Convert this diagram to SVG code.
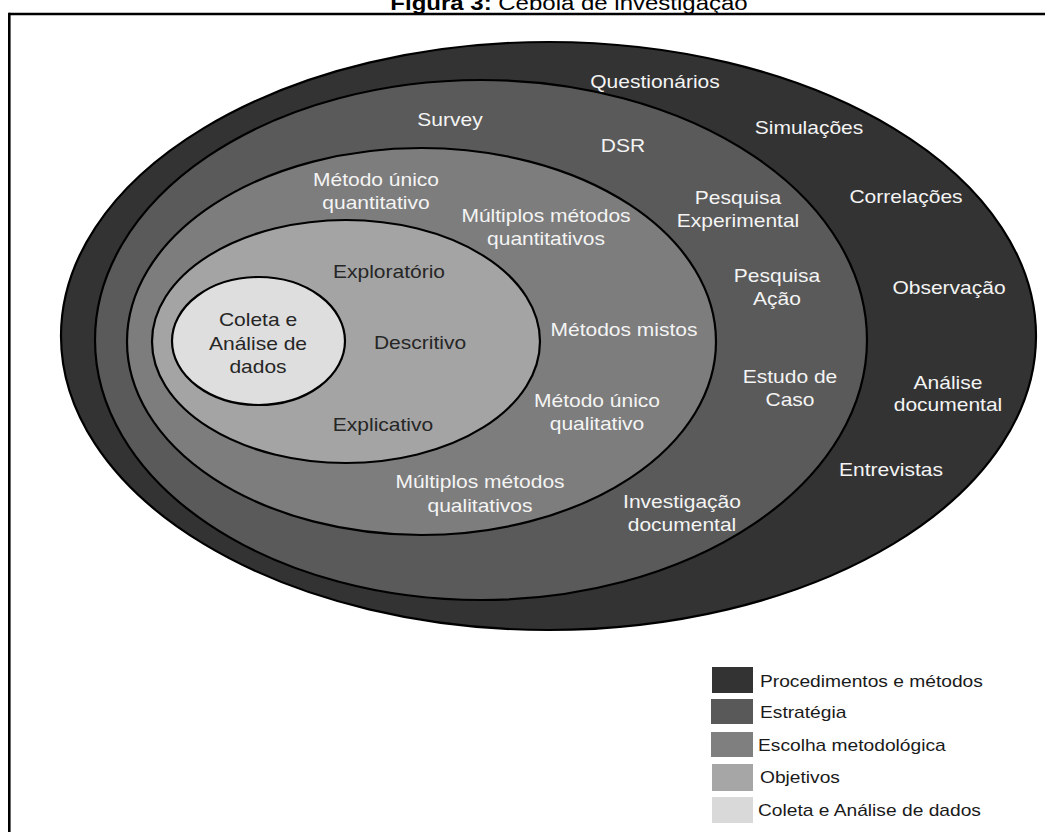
<svg xmlns="http://www.w3.org/2000/svg" width="1045" height="832" viewBox="0 0 1045 832">
<style>
.lyr{stroke:#000;stroke-width:2.2}
.w{font-family:"Liberation Sans",Arial,sans-serif;font-size:17.5px;fill:#f4f4f4;text-anchor:middle}
.d{font-family:"Liberation Sans",Arial,sans-serif;font-size:17.5px;fill:#262626;text-anchor:middle}
.lg{font-family:"Liberation Sans",Arial,sans-serif;font-size:16px;fill:#1a1a1a}
.sw{stroke:none}
</style>
<rect x="0" y="0" width="1045" height="832" fill="#ffffff"/>
<g id="frame">
<text transform="translate(569 0) scale(1.2 1)" x="0" y="10" style="font-family:'Liberation Sans',Arial,sans-serif;font-size:20px;fill:#000;text-anchor:middle"><tspan font-weight="bold">Figura 3:</tspan> Cebola de investigação</text>
<line x1="9" y1="14" x2="1045" y2="14" stroke="#000" stroke-width="2.6"/>
<line x1="9.3" y1="12.7" x2="9.3" y2="832" stroke="#000" stroke-width="2.6"/>
</g>
<g id="procedimentos">
<ellipse class="lyr" cx="548.5" cy="336" rx="487.5" ry="294" fill="#333333"/>
<text class="w" transform="translate(655 0) scale(1.2 1)"><tspan x="0" y="88">Questionários</tspan></text>
<text class="w" transform="translate(809 0) scale(1.2 1)"><tspan x="0" y="134">Simulações</tspan></text>
<text class="w" transform="translate(906 0) scale(1.2 1)"><tspan x="0" y="203">Correlações</tspan></text>
<text class="w" transform="translate(949 0) scale(1.2 1)"><tspan x="0" y="294">Observação</tspan></text>
<text class="w" transform="translate(948 0) scale(1.2 1)"><tspan x="0" y="389">Análise</tspan><tspan x="0" y="411">documental</tspan></text>
<text class="w" transform="translate(891 0) scale(1.2 1)"><tspan x="0" y="476">Entrevistas</tspan></text>
</g>
<g id="estrategia">
<ellipse class="lyr" cx="481" cy="340" rx="386" ry="260" fill="#5a5a5a"/>
<text class="w" transform="translate(450 0) scale(1.2 1)"><tspan x="0" y="126">Survey</tspan></text>
<text class="w" transform="translate(623 0) scale(1.2 1)"><tspan x="0" y="152">DSR</tspan></text>
<text class="w" transform="translate(738 0) scale(1.2 1)"><tspan x="0" y="204">Pesquisa</tspan><tspan x="0" y="227">Experimental</tspan></text>
<text class="w" transform="translate(777 0) scale(1.2 1)"><tspan x="0" y="282">Pesquisa</tspan><tspan x="0" y="305">Ação</tspan></text>
<text class="w" transform="translate(790 0) scale(1.2 1)"><tspan x="0" y="383">Estudo de</tspan><tspan x="0" y="406">Caso</tspan></text>
<text class="w" transform="translate(682 0) scale(1.2 1)"><tspan x="0" y="508">Investigação</tspan><tspan x="0" y="531">documental</tspan></text>
</g>
<g id="escolha">
<ellipse class="lyr" cx="421.5" cy="341.5" rx="294.5" ry="193.5" fill="#7d7d7d"/>
<text class="w" transform="translate(376 0) scale(1.2 1)"><tspan x="0" y="186">Método único</tspan><tspan x="0" y="209">quantitativo</tspan></text>
<text class="w" transform="translate(546 0) scale(1.2 1)"><tspan x="0" y="222">Múltiplos métodos</tspan><tspan x="0" y="245">quantitativos</tspan></text>
<text class="w" transform="translate(624 0) scale(1.2 1)"><tspan x="0" y="336">Métodos mistos</tspan></text>
<text class="w" transform="translate(597 0) scale(1.2 1)"><tspan x="0" y="407">Método único</tspan><tspan x="0" y="430">qualitativo</tspan></text>
<text class="w" transform="translate(480 0) scale(1.2 1)"><tspan x="0" y="488">Múltiplos métodos</tspan><tspan x="0" y="512">qualitativos</tspan></text>
</g>
<g id="objetivos">
<ellipse class="lyr" cx="346" cy="341.5" rx="194" ry="121.5" fill="#a4a4a4"/>
<text class="d" transform="translate(389 0) scale(1.2 1)"><tspan x="0" y="278">Exploratório</tspan></text>
<text class="d" transform="translate(420 0) scale(1.2 1)"><tspan x="0" y="349">Descritivo</tspan></text>
<text class="d" transform="translate(383 0) scale(1.2 1)"><tspan x="0" y="431">Explicativo</tspan></text>
</g>
<g id="coleta">
<ellipse class="lyr" cx="258.5" cy="341" rx="86.5" ry="64" fill="#dedede"/>
<text class="d" transform="translate(258 0) scale(1.2 1)"><tspan x="0" y="326">Coleta e</tspan><tspan x="0" y="350">Análise de</tspan><tspan x="0" y="373">dados</tspan></text>
</g>
<g id="connectors"></g>
<g id="legend">
<g id="leg-procedimentos"><rect class="sw" x="712" y="667" width="41" height="26" fill="#333333"/><text class="lg" transform="translate(760 0) scale(1.2 1)" x="0" y="687">Procedimentos e métodos</text></g>
<g id="leg-estrategia"><rect class="sw" x="711" y="699" width="42" height="25" fill="#595959"/><text class="lg" transform="translate(760 0) scale(1.2 1)" x="0" y="718">Estratégia</text></g>
<g id="leg-escolha"><rect class="sw" x="711" y="732" width="42" height="25" fill="#7f7f7f"/><text class="lg" transform="translate(758 0) scale(1.2 1)" x="0" y="751">Escolha metodológica</text></g>
<g id="leg-objetivos"><rect class="sw" x="712" y="764" width="41" height="27" fill="#a6a6a6"/><text class="lg" transform="translate(760 0) scale(1.2 1)" x="0" y="783">Objetivos</text></g>
<g id="leg-coleta"><rect class="sw" x="712" y="797" width="41" height="26" fill="#d9d9d9"/><text class="lg" transform="translate(758 0) scale(1.2 1)" x="0" y="816">Coleta e Análise de dados</text></g>
</g>
</svg>
